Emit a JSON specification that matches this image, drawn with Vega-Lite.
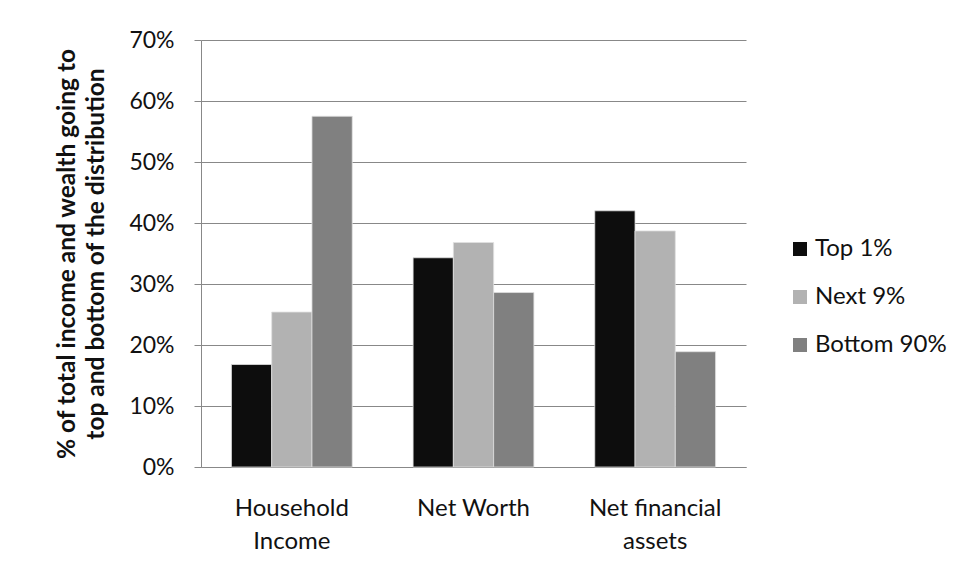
{
  "$schema": "https://vega.github.io/schema/vega-lite/v6.json",
  "autosize": {"type": "none"},
  "padding": {"left": 201, "top": 40, "right": 213, "bottom": 115},
  "width": 545,
  "height": 427,
  "background": "white",
  "config": {
    "font": "Lato",
    "view": {"stroke": null},
    "axis": {"labelColor": "#111", "titleColor": "#111", "domainColor": "#888", "tickColor": "#888", "gridColor": "#888"}
  },
  "data": {
    "values": [
      {"category": "Household Income", "group": "Top 1%", "share": 0.168},
      {"category": "Household Income", "group": "Next 9%", "share": 0.254},
      {"category": "Household Income", "group": "Bottom 90%", "share": 0.575},
      {"category": "Net Worth", "group": "Top 1%", "share": 0.343},
      {"category": "Net Worth", "group": "Next 9%", "share": 0.368},
      {"category": "Net Worth", "group": "Bottom 90%", "share": 0.286},
      {"category": "Net financial assets", "group": "Top 1%", "share": 0.42},
      {"category": "Net financial assets", "group": "Next 9%", "share": 0.387},
      {"category": "Net financial assets", "group": "Bottom 90%", "share": 0.189}
    ]
  },
  "mark": {"type": "bar", "stroke": "#e0e0e0", "strokeWidth": 0.8},
  "encoding": {
    "x": {
      "field": "category",
      "type": "nominal",
      "sort": ["Household Income", "Net Worth", "Net financial assets"],
      "scale": {"paddingInner": 0.335, "paddingOuter": 0.1675},
      "axis": {
        "title": null,
        "labelAngle": 0,
        "labelFontSize": 24,
        "labelLineHeight": 33,
        "labelPadding": 29,
        "ticks": false,
        "domain": true,
        "domainColor": "#888",
        "labelExpr": "datum.label == 'Household Income' ? ['Household', 'Income'] : datum.label == 'Net financial assets' ? ['Net financial', 'assets'] : datum.label"
      }
    },
    "xOffset": {
      "field": "group",
      "type": "nominal",
      "sort": ["Top 1%", "Next 9%", "Bottom 90%"],
      "scale": {"paddingInner": 0, "paddingOuter": 0}
    },
    "y": {
      "field": "share",
      "type": "quantitative",
      "scale": {"domain": [0, 0.7], "nice": false},
      "axis": {
        "title": ["% of total income and wealth going to", "top and bottom of the distribution"],
        "titleFontSize": 24.5,
        "titleFontWeight": "bold",
        "titleLineHeight": 29,
        "titlePadding": 20,
        "values": [0, 0.1, 0.2, 0.3, 0.4, 0.5, 0.6, 0.7],
        "format": ".0%",
        "labelFontSize": 23,
        "labelPadding": 20,
        "tickSize": 7,
        "grid": true,
        "gridColor": "#888",
        "gridWidth": 1
      }
    },
    "color": {
      "field": "group",
      "type": "nominal",
      "sort": ["Top 1%", "Next 9%", "Bottom 90%"],
      "scale": {"domain": ["Top 1%", "Next 9%", "Bottom 90%"], "range": ["#0d0d0d", "#b2b2b2", "#808080"]},
      "legend": {
        "title": null,
        "orient": "none",
        "legendX": 587,
        "legendY": 197,
        "symbolType": "square",
        "symbolSize": 196,
        "symbolStrokeWidth": 0,
        "labelFontSize": 24,
        "labelColor": "#111",
        "labelOffset": 3,
        "rowPadding": 24,
        "padding": 0
      }
    }
  }
}
